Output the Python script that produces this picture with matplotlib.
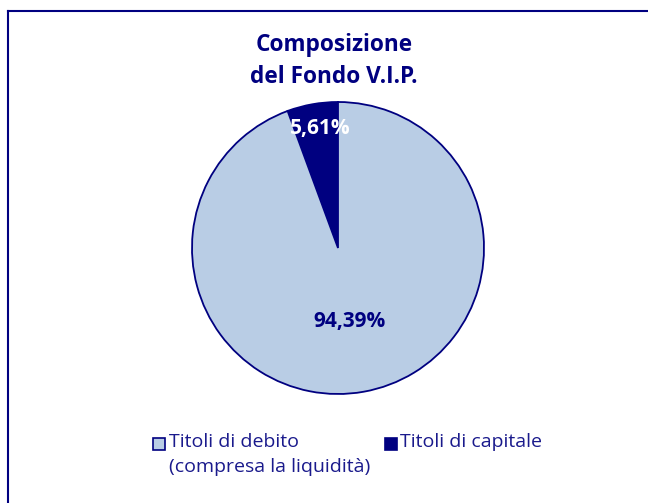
import matplotlib
matplotlib.use('Agg')
import matplotlib.pyplot as plt
from matplotlib.patches import Rectangle
from matplotlib.lines import Line2D

# dati
categorie = ['Titoli di debito\n(compresa la liquidità)', 'Titoli di capitale']
valori = [94.39, 5.61]
etichette = ['94,39%', '5,61%']
colori = ['#B9CDE5', '#000080']
titolo = 'Composizione\ndel Fondo V.I.P.'

NAVY = '#000080'
W, H = 648, 503

plt.rcParams['font.family'] = ['Open Sans', 'DejaVu Sans']

fig = plt.figure(figsize=(W / 100, H / 100), dpi=100)
fig.patch.set_facecolor('white')

# cornice (solo lato sinistro e superiore visibili)
fig.add_artist(Line2D([7.5 / W, 7.5 / W], [0, 1 - 10.5 / H], transform=fig.transFigure,
                      color=NAVY, lw=1.5))
fig.add_artist(Line2D([7.5 / W, 1.0], [1 - 10.5 / H, 1 - 10.5 / H], transform=fig.transFigure,
                      color=NAVY, lw=1.5))

fig.text(334 / W, 1 - 61 / H, titolo, ha='center', va='center', fontsize=16.3,
         fontweight='bold', color=NAVY, linespacing=1.4)

# torta: capitale prima, partendo dall'alto in senso antiorario
cx, cy, r = 338, 248, 146
ax = fig.add_axes([(cx - r) / W, 1 - (cy + r) / H, 2 * r / W, 2 * r / H])
wedges, _ = ax.pie(valori[::-1], colors=colori[::-1], startangle=90, counterclock=True,
                   wedgeprops=dict(edgecolor=NAVY, linewidth=1.3))
ax.set_xlim(-1, 1)
ax.set_ylim(-1, 1)
ax.axis('off')

ax.text(0.08, -0.5, etichette[0], ha='center', va='center', fontsize=15,
        fontweight='bold', color=NAVY)
ax.text(-0.12, 0.82, etichette[1], ha='center', va='center', fontsize=15,
        fontweight='bold', color='white')

# legenda
pos_leg = [(153, 438, 169), (385, 438, 400)]
for (mx, my, tx), cat, col in zip(pos_leg, categorie, colori):
    fig.add_artist(Rectangle((mx / W, 1 - (my + 11.5) / H), 11.5 / W, 11.5 / H,
                             transform=fig.transFigure, facecolor=col,
                             edgecolor=NAVY, lw=1.2))
    fig.text(tx / W, 1 - 433 / H, cat, ha='left', va='top', fontsize=14,
             color='#1A1A8C', linespacing=1.5)

fig.savefig('out.png', dpi=100, facecolor='white')
